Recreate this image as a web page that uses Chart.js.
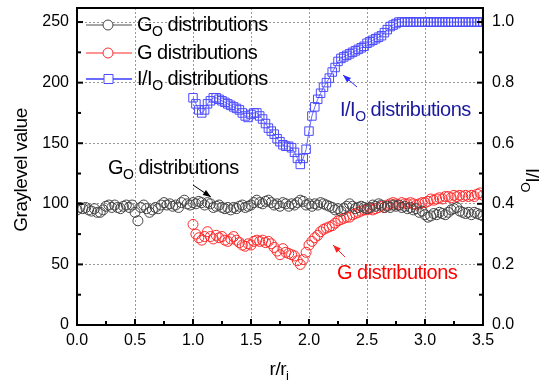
<!DOCTYPE html>
<html>
<head>
<meta charset="utf-8">
<script src="https://cdn.jsdelivr.net/npm/chart.js@4"></script>
<style>
html, body { margin: 0; padding: 0; background: #fff; }
#wrap { width: 548px; height: 385px; }
</style>
</head>
<body>
<div id="wrap"><canvas id="chart" width="548" height="385"></canvas></div>
<script>
// r/ri positions (every 0.025)
var xG0 = [0, 0.025, 0.05, 0.075, 0.1, 0.125, 0.15, 0.175, 0.2, 0.225,
  0.25, 0.275, 0.3, 0.325, 0.35, 0.375, 0.4, 0.425, 0.45, 0.475,
  0.5, 0.525, 0.55, 0.575, 0.6, 0.625, 0.65, 0.675, 0.7, 0.725,
  0.75, 0.775, 0.8, 0.825, 0.85, 0.875, 0.9, 0.925, 0.95, 0.975,
  1, 1.025, 1.05, 1.075, 1.1, 1.125, 1.15, 1.175, 1.2, 1.225,
  1.25, 1.275, 1.3, 1.325, 1.35, 1.375, 1.4, 1.425, 1.45, 1.475,
  1.5, 1.525, 1.55, 1.575, 1.6, 1.625, 1.65, 1.675, 1.7, 1.725,
  1.75, 1.775, 1.8, 1.825, 1.85, 1.875, 1.9, 1.925, 1.95, 1.975,
  2, 2.025, 2.05, 2.075, 2.1, 2.125, 2.15, 2.175, 2.2, 2.225,
  2.25, 2.275, 2.3, 2.325, 2.35, 2.375, 2.4, 2.425, 2.45, 2.475,
  2.5, 2.525, 2.55, 2.575, 2.6, 2.625, 2.65, 2.675, 2.7, 2.725,
  2.75, 2.775, 2.8, 2.825, 2.85, 2.875, 2.9, 2.925, 2.95, 2.975,
  3, 3.025, 3.05, 3.075, 3.1, 3.125, 3.15, 3.175, 3.2, 3.225,
  3.25, 3.275, 3.3, 3.325, 3.35, 3.375, 3.4, 3.425, 3.45, 3.475,
  3.5];
var g0Values = [95, 97, 96, 97, 95, 94, 96, 93, 93, 95,
  98, 99, 97, 99, 97, 96, 98, 99, 97, 99,
  93, 86, 97, 99, 96, 93, 95, 97, 96, 99,
  101, 99, 100, 98, 99, 97, 101, 103, 100, 99,
  101, 100, 102, 101, 99, 101, 100, 97, 98, 99,
  97, 96, 97, 95, 97, 96, 98, 99, 97, 98,
  99, 101, 103, 101, 100, 102, 103, 101, 99, 100,
  98, 101, 100, 98, 100, 99, 101, 103, 102, 99,
  100, 98, 100, 99, 101, 100, 99, 98, 97, 95,
  96, 94, 96, 98, 100, 98, 96, 97, 98, 97,
  96, 97, 99, 98, 100, 99, 97, 98, 97, 99,
  98, 99, 97, 98, 96, 97, 95, 96, 93, 94,
  91, 89, 90, 92, 91, 93, 92, 91, 93, 95,
  96, 97, 94, 93, 92, 93, 91, 93, 92, 91,
  90];
var xG = xG0.slice(40);
var gValues = [83, 75, 72, 70, 73, 77, 73, 71, 74, 72,
  73, 70, 69, 71, 73, 70, 68, 66, 65, 67,
  66, 69, 70, 69, 70, 68, 69, 67, 64, 61,
  58, 63, 60, 59, 58, 57, 53, 50, 54, 60,
  66, 69, 72, 74, 77, 79, 80, 81, 82, 84,
  86, 87, 88, 89, 89, 91, 92, 93, 94, 95,
  95, 96, 95, 96, 97, 98, 97, 99, 100, 101,
  100, 99, 101, 100, 100, 101, 100, 99, 100, 101,
  101, 102, 104, 103, 104, 105, 104, 106, 106, 105,
  107, 106, 107, 106, 107, 106, 107, 106, 108, 109,
  107];
var iValues = [0.75, 0.73, 0.71, 0.70, 0.71, 0.73, 0.74, 0.75, 0.75, 0.745,
  0.74, 0.735, 0.73, 0.725, 0.72, 0.715, 0.71, 0.70, 0.69, 0.685,
  0.695, 0.70, 0.70, 0.69, 0.68, 0.665, 0.65, 0.64, 0.63, 0.615,
  0.605, 0.595, 0.59, 0.59, 0.585, 0.57, 0.55, 0.53, 0.55, 0.58,
  0.64, 0.69, 0.72, 0.745, 0.765, 0.785, 0.80, 0.815, 0.835, 0.85,
  0.87, 0.88, 0.885, 0.89, 0.895, 0.90, 0.905, 0.91, 0.915, 0.92,
  0.93, 0.935, 0.94, 0.945, 0.95, 0.955, 0.965, 0.975, 0.985, 0.99,
  0.995, 1, 1, 1, 1, 1, 1, 1, 1, 1,
  1, 1, 1, 1, 1, 1, 1, 1, 1, 1,
  1, 1, 1, 1, 1, 1, 1, 1, 1, 1,
  1];
var xTicks = [0, 0.5, 1, 1.5, 2, 2.5, 3, 3.5];
var yTicks = [0, 50, 100, 150, 200, 250];
var y1Ticks = [0, 0.2, 0.4, 0.6, 0.8, 1.0];

var FONT = '"Liberation Sans", Arial, sans-serif';
var GRID = '#999999';

function pts(xs, ys) {
  return ys.map(function (v, i) { return { x: xs[i], y: v }; });
}

// text with optional subscripts: parts = [[text, isSub], ...]
function subText(ctx, parts, x, y, size, color, align) {
  ctx.save();
  ctx.fillStyle = color;
  ctx.textBaseline = 'middle';
  ctx.textAlign = 'left';
  if ('letterSpacing' in ctx) ctx.letterSpacing = '-0.5px';
  var widths = [], total = 0;
  parts.forEach(function (p) {
    ctx.font = (p[1] ? Math.round(size * 0.68) : size) + 'px ' + FONT;
    var w = ctx.measureText(p[0]).width;
    widths.push(w);
    total += w;
  });
  var cx = align === 'center' ? x - total / 2 : x;
  parts.forEach(function (p, i) {
    ctx.font = (p[1] ? Math.round(size * 0.68) : size) + 'px ' + FONT;
    ctx.fillText(p[0], cx, y + (p[1] ? size * 0.35 : 0));
    cx += widths[i];
  });
  ctx.restore();
}

function arrow(ctx, x1, y1, x2, y2, color) {
  var a = Math.atan2(y2 - y1, x2 - x1);
  ctx.save();
  ctx.strokeStyle = color;
  ctx.fillStyle = color;
  ctx.lineWidth = 1;
  ctx.beginPath();
  ctx.moveTo(x1, y1);
  ctx.lineTo(x2, y2);
  ctx.stroke();
  ctx.beginPath();
  ctx.moveTo(x2, y2);
  ctx.lineTo(x2 - 8 * Math.cos(a) + 3 * Math.sin(a), y2 - 8 * Math.sin(a) - 3 * Math.cos(a));
  ctx.lineTo(x2 - 8 * Math.cos(a) - 3 * Math.sin(a), y2 - 8 * Math.sin(a) + 3 * Math.cos(a));
  ctx.closePath();
  ctx.fill();
  ctx.restore();
}

function mids(arr) {
  var out = [];
  for (var i = 0; i < arr.length - 1; i++) out.push((arr[i] + arr[i + 1]) / 2);
  return out;
}

var decor = {
  id: 'decor',
  afterDraw: function (chart) {
    var ctx = chart.ctx, a = chart.chartArea;
    var sx = chart.scales.x, sy = chart.scales.y, sy1 = chart.scales.y1;
    ctx.save();
    // frame
    ctx.strokeStyle = '#000';
    ctx.lineWidth = 2;
    ctx.strokeRect(a.left, a.top, a.right - a.left, a.bottom - a.top);
    // inward ticks
    function tickX(vals, len) {
      vals.forEach(function (v) {
        var p = sx.getPixelForValue(v);
        ctx.beginPath(); ctx.moveTo(p, a.bottom); ctx.lineTo(p, a.bottom - len); ctx.stroke();
      });
    }
    function tickY(scale, vals, len, edge, dir) {
      vals.forEach(function (v) {
        var p = scale.getPixelForValue(v);
        ctx.beginPath(); ctx.moveTo(edge, p); ctx.lineTo(edge + dir * len, p); ctx.stroke();
      });
    }
    tickX(xTicks, 6); tickX(mids(xTicks), 4);
    tickY(sy, yTicks, 6, a.left, 1); tickY(sy, mids(yTicks), 4, a.left, 1);
    tickY(sy1, y1Ticks, 6, a.right, -1); tickY(sy1, mids(y1Ticks), 4, a.right, -1);
    ctx.restore();

    // axis titles
    ctx.save();
    ctx.translate(22, 170);
    ctx.rotate(-Math.PI / 2);
    subText(ctx, [['Graylevel value', false]], 0, 0, 19, '#000', 'center');
    ctx.restore();
    subText(ctx, [['r/r', false], ['i', true]], 279, 370, 19, '#000', 'center');
    ctx.save();
    ctx.translate(531, 180);
    ctx.rotate(Math.PI / 2);
    subText(ctx, [['I/I', false], ['O', true]], 0, 0, 19, '#000', 'center');
    ctx.restore();

    // legend
    var rows = [
      { y: 25, line: '#8a8a8a', mark: '#444', sq: false, parts: [['G', false], ['O', true], [' distributions', false]] },
      { y: 53, line: '#ff7070', mark: '#ff2a2a', sq: false, parts: [['G distributions', false]] },
      { y: 79, line: '#3a3aff', mark: '#4a4aff', sq: true, parts: [['I/I', false], ['O', true], [' distributions', false]] }
    ];
    rows.forEach(function (r) {
      ctx.save();
      ctx.strokeStyle = r.line;
      ctx.lineWidth = 1.5;
      ctx.beginPath(); ctx.moveTo(a.left + 9, r.y); ctx.lineTo(a.left + 55, r.y); ctx.stroke();
      ctx.fillStyle = '#fff';
      ctx.strokeStyle = r.mark;
      ctx.lineWidth = 1;
      ctx.beginPath();
      if (r.sq) ctx.rect(a.left + 27, r.y - 4.5, 9, 9);
      else ctx.arc(a.left + 31, r.y, 5, 0, Math.PI * 2);
      ctx.fill(); ctx.stroke();
      ctx.restore();
      subText(ctx, r.parts, a.left + 60, r.y, 20, '#000', 'left');
    });

    // annotations (data coordinates on the left axis)
    function px(x) { return sx.getPixelForValue(x); }
    function py(y) { return sy.getPixelForValue(y); }
    subText(ctx, [['G', false], ['O', true], [' distributions', false]], px(0.267), py(129.5), 20, '#000', 'left');
    arrow(ctx, px(1.0), py(115.5), px(1.155), py(105.6), '#000');
    subText(ctx, [['I/I', false], ['O', true], [' distributions', false]], px(2.267), py(177.4), 20, '#1a1a9e', 'left');
    arrow(ctx, px(2.414), py(196.4), px(2.293), py(206.3), '#2a2aff');
    subText(ctx, [['G distributions', false]], px(2.241), py(42.9), 20, '#ff0000', 'left');
    arrow(ctx, px(2.31), py(56.1), px(2.207), py(66.0), '#ff2020');
  }
};

function noPadV(s) { s.paddingTop = 0; s.paddingBottom = 0; }

var ctx = document.getElementById('chart').getContext('2d');
var myChart = new Chart(ctx, {
  type: 'scatter',
  data: {
    datasets: [{
      label: 'G0 distributions',
      data: pts(xG0, g0Values),
      yAxisID: 'y',
      pointStyle: 'circle',
      pointRadius: 5,
      pointBorderWidth: 1,
      pointBorderColor: '#444',
      pointBackgroundColor: 'rgba(0,0,0,0)',
      showLine: false
    }, {
      label: 'G distributions',
      data: pts(xG, gValues),
      yAxisID: 'y',
      pointStyle: 'circle',
      pointRadius: 5,
      pointBorderWidth: 1,
      pointBorderColor: '#ff2a2a',
      pointBackgroundColor: 'rgba(0,0,0,0)',
      showLine: false
    }, {
      label: 'I/I0 distributions',
      data: pts(xG, iValues),
      yAxisID: 'y1',
      pointStyle: 'rect',
      pointRadius: 6,
      pointBorderWidth: 1,
      pointBorderColor: '#4a4aff',
      pointBackgroundColor: 'rgba(0,0,0,0)',
      showLine: true,
      borderColor: '#6a6aff',
      borderWidth: 1
    }]
  },
  options: {
    responsive: false,
    animation: false,
    devicePixelRatio: 1,
    layout: { padding: { top: 8, left: 0, right: 0, bottom: 0 } },
    plugins: { legend: { display: false }, tooltip: { enabled: false } },
    scales: {
      x: {
        type: 'linear',
        min: 0,
        max: 3.5,
        afterBuildTicks: function (s) { s.ticks = xTicks.map(function (v) { return { value: v }; }); },
        afterFit: function (s) { s.height = 60; s.paddingLeft = 0; s.paddingRight = 0; },
        ticks: {
          padding: 6,
          color: '#000',
          font: { family: FONT, size: 16 },
          callback: function (v) { return Number(v).toFixed(1); }
        },
        grid: {
          drawTicks: false,
          lineWidth: 1,
          color: function (c) {
            return (c.tick && (c.tick.value === 0 || c.tick.value === 3.5)) ? 'rgba(0,0,0,0)' : GRID;
          }
        },
        border: { display: false, dash: [2, 2] }
      },
      y: {
        position: 'left',
        min: 0,
        max: 261.6,
        afterBuildTicks: function (s) { s.ticks = yTicks.map(function (v) { return { value: v }; }); },
        afterFit: function (s) { s.width = 77; noPadV(s); },
        ticks: {
          padding: 8,
          color: '#000',
          font: { family: FONT, size: 16 },
          callback: function (v) { return String(v); }
        },
        grid: {
          drawTicks: false,
          lineWidth: 1,
          color: function (c) {
            return (c.tick && c.tick.value === 0) ? 'rgba(0,0,0,0)' : GRID;
          }
        },
        border: { display: false, dash: [2, 2] }
      },
      y1: {
        position: 'right',
        min: 0,
        max: 1.0464,
        afterBuildTicks: function (s) { s.ticks = y1Ticks.map(function (v) { return { value: v }; }); },
        afterFit: function (s) { s.width = 65; noPadV(s); },
        ticks: {
          padding: 9,
          color: '#000',
          font: { family: FONT, size: 16 },
          callback: function (v) { return Number(v).toFixed(1); }
        },
        grid: { display: false, drawTicks: false },
        border: { display: false }
      }
    }
  },
  plugins: [decor]
});
</script>
</body>
</html>
